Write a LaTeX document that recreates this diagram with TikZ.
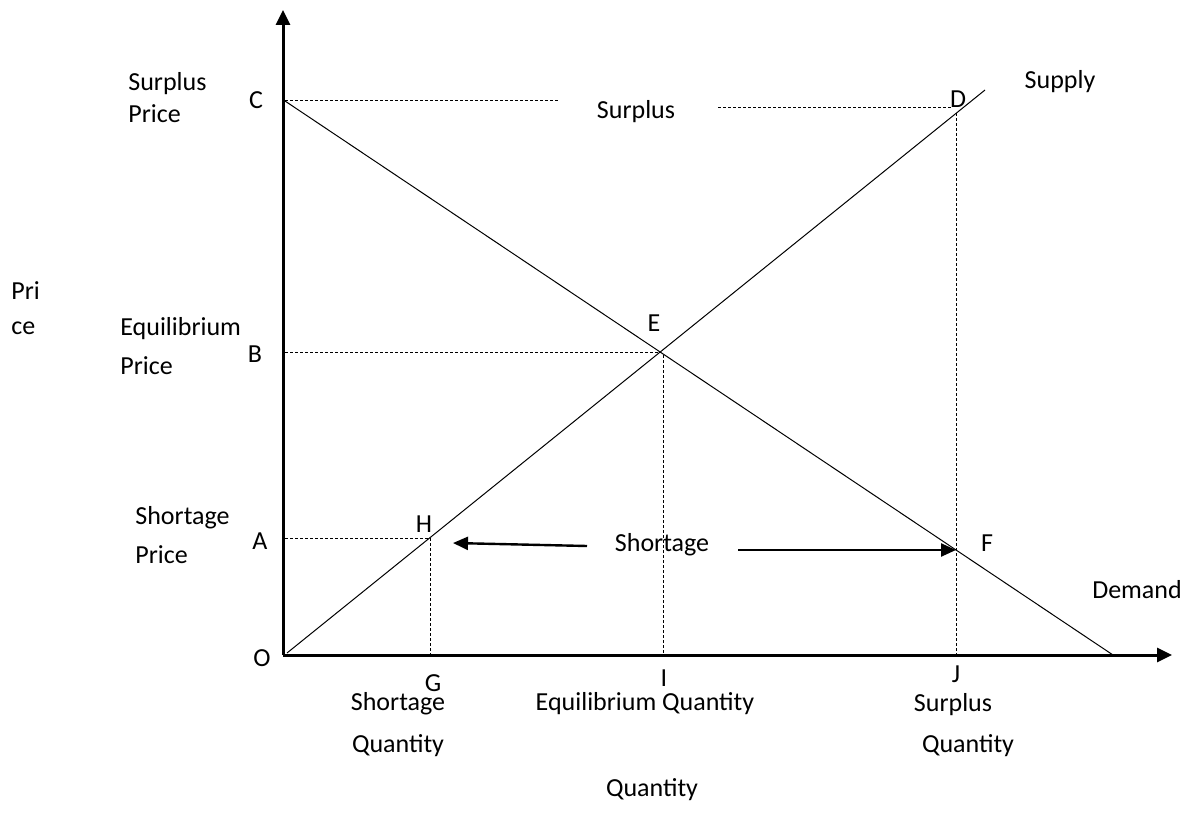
\documentclass[tikz,border=0pt]{standalone}
\usepackage{fontspec}
\setmainfont{Carlito}
\usetikzlibrary{arrows.meta}

\begin{document}
\begin{tikzpicture}[x=0.5pt,y=-0.5pt]
\tikzset{
  lbl/.style={inner sep=0pt,font=\fontsize{13}{15}\selectfont},
  lbllft/.style={lbl,anchor=west},
  axis/.style={-{Triangle[length=7.5pt,width=7pt]},line width=1.5pt},
  curve/.style={line width=0.5pt},
  guide/.style={line width=0.5pt,dash pattern=on 1.5pt off 1pt},
  gap/.style={-{Triangle[length=7.5pt,width=6.5pt]},line width=1.2pt}
}
\useasboundingbox (0,0) rectangle (1188,829);
% axes
\coordinate (O) at (283,655);
\coordinate (ytip) at (283,10);
\coordinate (xtip) at (1172,655);
\draw[axis] (O) -- (ytip);
\draw[axis] (O) -- (xtip);
% points on the curves
\coordinate (pC) at (285,101);
\coordinate (pD) at (956,113);
\coordinate (pE) at (661,352);
\coordinate (pH) at (430,538);
\coordinate (pF) at (956,549);
\coordinate (sBeg) at (287,653);
\coordinate (sEnd) at (985,90);
\coordinate (dEnd) at (1113,655);
\draw[curve] (sBeg) -- (sEnd);
\draw[curve] (pC) -- (dEnd);
% guide lines
\coordinate (cEnd) at (558,101);
\coordinate (dBeg) at (718,108);
\coordinate (dStop) at (952,108);
\coordinate (pB) at (285,352);
\coordinate (pA) at (285,538);
\coordinate (pG) at (430,655);
\coordinate (eFoot) at (663,355);
\coordinate (pI) at (663,655);
\coordinate (pJ) at (956,655);
\draw[guide] (pC) -- (cEnd);
\draw[guide] (dBeg) -- (dStop);
\draw[guide] (pB) -- (pE);
\draw[guide] (pA) -- (pH);
\draw[guide] (pH) -- (pG);
\draw[guide] (eFoot) -- (pI);
\draw[guide] (pD) -- (pJ);
% shortage arrows
\coordinate (lBeg) at (587,546);
\coordinate (lTip) at (453,543);
\coordinate (rBeg) at (738,550);
\coordinate (rTip) at (956,550);
\draw[gap] (lBeg) -- (lTip);
\draw[gap] (rBeg) -- (rTip);
% letters
\node[lbl] (n_C) at (256,100) {C};
\node[lbl] (n_B) at (255,354) {B};
\node[lbl] (n_A) at (260,541) {A};
\node[lbl] (n_O) at (262,658) {O};
\node[lbl] (n_E) at (654,323) {E};
\node[lbl] (n_H) at (424,524) {H};
\node[lbl] (n_F) at (987,543) {F};
\node[lbl] (n_D) at (958,99) {D};
\node[lbl] (n_G) at (433,683) {G};
\node[lbl] (n_I) at (664,678) {I};
\node[lbl] (n_J) at (956,674) {J};
% captions
\node[lbllft] (t_sp1) at (128,84) {Surplus};
\node[lbllft] (t_sp2) at (128,114) {Price};
\node[lbllft] (t_pr1) at (11,291) {Pri};
\node[lbllft] (t_pr2) at (11,328) {ce};
\node[lbllft] (t_ep1) at (120,329) {Equilibrium};
\node[lbllft] (t_ep2) at (120,366) {Price};
\node[lbllft] (t_hp1) at (135,518) {Shortage};
\node[lbllft] (t_hp2) at (135,555) {Price};
\node[lbl] (t_supply) at (1060,82) {Supply};
\node[lbl] (t_surplus) at (636,112) {Surplus};
\node[lbl] (t_short) at (662,545) {Shortage};
\node[lbl] (t_demand) at (1137,590) {Demand};
\node[lbl] (t_sq1) at (398,704) {Shortage};
\node[lbl] (t_sq2) at (398,746) {Quantity};
\node[lbl] (t_eq) at (645,704) {Equilibrium Quantity};
\node[lbl] (t_uq1) at (953,705) {Surplus};
\node[lbl] (t_uq2) at (968,746) {Quantity};
\node[lbl] (t_qty) at (652,790) {Quantity};
\end{tikzpicture}
\end{document}
